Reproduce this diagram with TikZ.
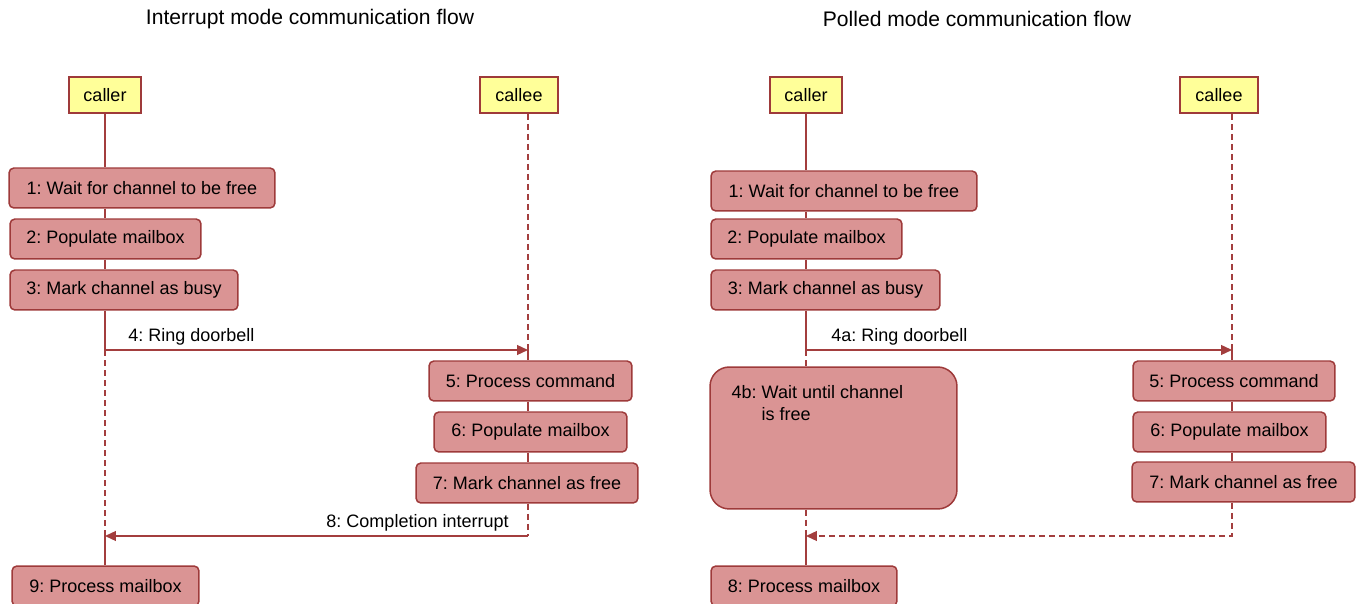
\documentclass[tikz,border=0pt]{standalone}
\usepackage{fontspec}
\setmainfont{Liberation Sans}
\usetikzlibrary{arrows.meta, positioning, backgrounds}
\definecolor{lifeline}{HTML}{A33E3E}
\definecolor{stepfill}{HTML}{DA9494}
\definecolor{stepdraw}{HTML}{9E3A3A}
\definecolor{actorfill}{HTML}{FFFF99}
\newcommand{\stepfont}{\fontsize{10.25}{12.5}\selectfont}
\frenchspacing

\begin{document}
\begin{tikzpicture}[
    x=0.02cm, y=-0.02cm,
    actor/.style={
        draw=stepdraw,
        fill=actorfill,
        line width=0.85pt,
        minimum height=0.72cm,
        inner sep=0pt,
        font=\stepfont
    },
    stepbox/.style={
        draw=stepdraw,
        fill=stepfill,
        line width=0.85pt,
        rounded corners=2.8pt,
        minimum height=0.8cm,
        inner sep=0pt,
        font=\stepfont
    },
    waitbox/.style={
        stepbox,
        rounded corners=11pt
    },
    lifesolid/.style={
        lifeline,
        line width=0.85pt
    },
    lifedashed/.style={
        lifesolid,
        dash pattern=on 3.4pt off 2.3pt
    },
    call/.style={
        -{Triangle[length=6.2pt, width=5.6pt]},
        lifesolid
    },
    reply/.style={
        -{Triangle[length=6.2pt, width=5.6pt]},
        lifedashed
    },
    msglabel/.style={
        inner sep=0pt,
        font=\stepfont
    },
    heading/.style={
        font=\fontsize{12}{14}\selectfont
    }
]
    \useasboundingbox (0,0) rectangle (1360,604);

    % interrupt mode
    \node[heading] (titleA) at (310,19) {Interrupt mode communication flow};
    \node[actor, minimum width=1.44cm] (callerA) at (105,95) {caller};
    \node[actor, minimum width=1.56cm] (calleeA) at (519,95) {callee};

    \node[stepbox, minimum width=5.32cm] (a1) at (142,188) {1: Wait for channel to be free};
    \node[stepbox, minimum width=3.82cm] (a2) at (105.5,239) {2: Populate mailbox};
    \node[stepbox, minimum width=4.56cm] (a3) at (124,290) {3: Mark channel as busy};
    \node[stepbox, minimum width=4.06cm] (a5) at (530.5,381) {5: Process command};
    \node[stepbox, minimum width=3.86cm] (a6) at (530.5,432) {6: Populate mailbox};
    \node[stepbox, minimum width=4.44cm] (a7) at (527,483) {7: Mark channel as free};
    \node[stepbox, minimum width=3.74cm] (a9) at (105.5,586) {9: Process mailbox};

    \coordinate (ringA) at (105,350);
    \coordinate (ringAend) at (528,350);
    \coordinate (doneA) at (528,536);
    \coordinate (doneAend) at (105,536);

    \begin{scope}[on background layer]
        \draw[lifesolid] (callerA.south) -- (callerA.south |- a1.north);
        \draw[lifesolid] (ringA |- a1.south) -- (ringA |- a2.north);
        \draw[lifesolid] (ringA |- a2.south) -- (ringA |- a3.north);
        \draw[lifesolid] (ringA |- a3.south) -- (ringA);
        \draw[lifedashed] (ringA) -- (doneAend);
        \draw[lifesolid] (doneAend) -- (doneAend |- a9.north);

        \draw[lifedashed] (ringAend |- calleeA.south) -- (ringAend);
        \draw[lifesolid] (ringAend) -- (ringAend |- a5.north);
        \draw[lifesolid] (ringAend |- a5.south) -- (ringAend |- a6.north);
        \draw[lifesolid] (ringAend |- a6.south) -- (ringAend |- a7.north);
        \draw[lifedashed] (ringAend |- a7.south) -- (doneA);
    \end{scope}

    \draw[call] (ringA) -- (ringAend);
    \node[msglabel, anchor=west] (ringlblA) at (128,337) {4: Ring doorbell};
    \draw[call] (doneA) -- (doneAend);
    \node[msglabel, anchor=east] (donelblA) at (509,523) {8: Completion interrupt};

    % polled mode
    \node[heading] (titleB) at (977,19) {Polled mode communication flow};
    \node[actor, minimum width=1.44cm] (callerB) at (806,95) {caller};
    \node[actor, minimum width=1.56cm] (calleeB) at (1219,95) {callee};

    \node[stepbox, minimum width=5.32cm] (b1) at (844,191) {1: Wait for channel to be free};
    \node[stepbox, minimum width=3.82cm] (b2) at (806.5,239) {2: Populate mailbox};
    \node[stepbox, minimum width=4.58cm] (b3) at (825.5,290) {3: Mark channel as busy};
    \node[waitbox, minimum width=4.94cm, minimum height=2.84cm] (b4) at (833.5,438) {};
    \node[msglabel, anchor=north west, align=left] (waitlbl) at ([xshift=0.44cm, yshift=-0.38cm]b4.north west)
        {4b: Wait until channel\\\phantom{4b: }is free};
    \node[stepbox, minimum width=4.04cm] (b5) at (1234,381) {5: Process command};
    \node[stepbox, minimum width=3.86cm] (b6) at (1229.5,432) {6: Populate mailbox};
    \node[stepbox, minimum width=4.46cm] (b7) at (1243.5,482) {7: Mark channel as free};
    \node[stepbox, minimum width=3.72cm] (b8) at (804,586) {8: Process mailbox};

    \coordinate (ringB) at (806,350);
    \coordinate (ringBend) at (1232,350);
    \coordinate (doneB) at (1232,536);
    \coordinate (doneBend) at (806,536);

    \begin{scope}[on background layer]
        \draw[lifesolid] (callerB.south) -- (callerB.south |- b1.north);
        \draw[lifesolid] (ringB |- b1.south) -- (ringB |- b2.north);
        \draw[lifesolid] (ringB |- b2.south) -- (ringB |- b3.north);
        \draw[lifesolid] (ringB |- b3.south) -- (ringB);
        \draw[lifedashed] (ringB) -- (ringB |- b4.north);
        \draw[lifedashed] (ringB |- b4.south) -- (doneBend);
        \draw[lifesolid] (doneBend) -- (doneBend |- b8.north);

        \draw[lifedashed] (ringBend |- calleeB.south) -- (ringBend);
        \draw[lifesolid] (ringBend) -- (ringBend |- b5.north);
        \draw[lifesolid] (ringBend |- b5.south) -- (ringBend |- b6.north);
        \draw[lifesolid] (ringBend |- b6.south) -- (ringBend |- b7.north);
    \end{scope}

    \draw[call] (ringB) -- (ringBend);
    \node[msglabel, anchor=west] (ringlblB) at (831,337) {4a: Ring doorbell};
    \draw[reply] (ringBend |- b7.south) -- (doneB) -- (doneBend);
\end{tikzpicture}
\end{document}
